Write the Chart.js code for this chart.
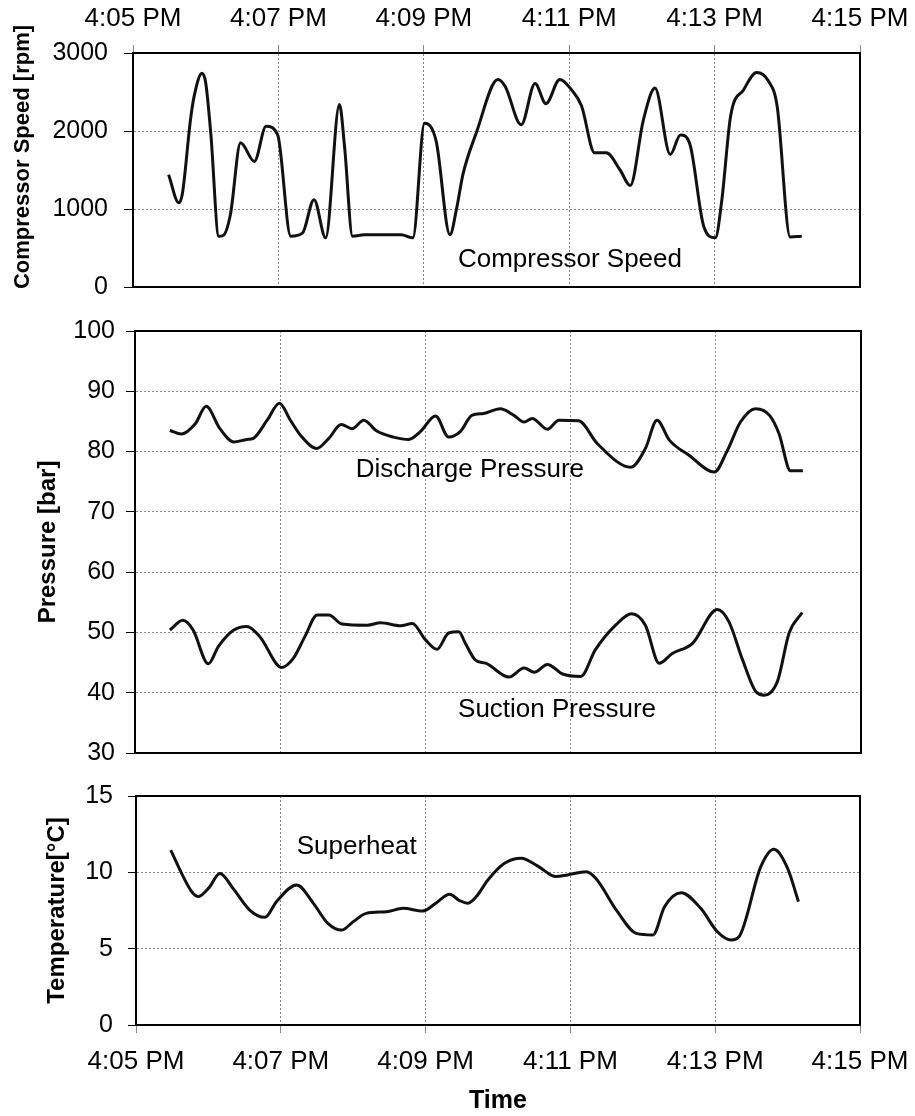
<!DOCTYPE html>
<html>
<head>
<meta charset="utf-8">
<script src="https://cdn.jsdelivr.net/npm/chart.js@4.4.0/dist/chart.umd.min.js"></script>
<style>
  body { margin: 0; background: #fff; }
  #wrap { position: relative; width: 915px; height: 1116px; }
  canvas { position: absolute; left: 0; }
</style>
</head>
<body>
<div id="wrap">
  <canvas id="speedChart" width="915" height="300" style="top:0"></canvas>
  <canvas id="pressureChart" width="915" height="465" style="top:300px"></canvas>
  <canvas id="tempChart" width="915" height="351" style="top:765px"></canvas>
</div>
<script>
// time is minutes after 4:00 PM
const timeTicks = [5, 7, 9, 11, 13, 15];
const timeLabels = ['4:05 PM', '4:07 PM', '4:09 PM', '4:11 PM', '4:13 PM', '4:15 PM'];

const speedTicks = [0, 1000, 2000, 3000];
const pressureTicks = [30, 40, 50, 60, 70, 80, 90, 100];
const tempTicks = [0, 5, 10, 15];

const speedTime = [5.49, 5.63, 5.68, 5.79, 5.84, 5.95, 6.00, 6.07, 6.18, 6.24, 6.34, 6.48, 6.67, 6.83, 6.99, 7.17, 7.33, 7.49, 7.65, 7.84, 7.91, 8.02, 8.18, 8.69, 8.85, 9.01, 9.17, 9.36, 9.45, 9.54, 9.72, 10.02, 10.12, 10.34, 10.53, 10.68, 10.87, 11.03, 11.17, 11.35, 11.51, 11.70, 11.84, 12.02, 12.18, 12.39, 12.53, 12.66, 12.85, 13.01, 13.10, 13.22, 13.40, 13.58, 13.74, 13.86, 14.04, 14.20];
const speedRpm = [1440, 1080, 1200, 2140, 2440, 2740, 2620, 1970, 650, 660, 930, 1850, 1610, 2060, 1950, 650, 690, 1120, 630, 2340, 1800, 650, 670, 670, 630, 2100, 1870, 670, 1000, 1450, 1970, 2660, 2570, 2080, 2610, 2350, 2660, 2530, 2320, 1720, 1720, 1500, 1300, 2140, 2550, 1700, 1950, 1830, 780, 630, 1120, 2190, 2530, 2750, 2640, 2320, 640, 650];

const dischargeTime = [5.48, 5.64, 5.83, 5.98, 6.17, 6.36, 6.54, 6.63, 6.82, 6.99, 7.14, 7.30, 7.50, 7.67, 7.84, 7.99, 8.15, 8.33, 8.56, 8.77, 8.93, 9.14, 9.32, 9.48, 9.64, 9.80, 10.03, 10.22, 10.36, 10.47, 10.68, 10.84, 11.11, 11.37, 11.83, 12.03, 12.19, 12.36, 12.63, 12.98, 13.16, 13.34, 13.55, 13.74, 13.87, 14.03, 14.20];
const dischargeBar = [83.5, 82.9, 84.6, 87.5, 83.8, 81.6, 82.0, 82.2, 85.2, 88.0, 85.2, 82.4, 80.5, 82.2, 84.5, 83.8, 85.2, 83.4, 82.4, 82.0, 83.3, 85.9, 82.4, 83.3, 86.0, 86.3, 87.1, 86.0, 84.9, 85.5, 83.7, 85.2, 85.1, 81.3, 77.4, 80.5, 85.2, 81.9, 79.4, 76.6, 80.2, 84.9, 87.1, 86.0, 83.0, 76.8, 76.8];

const suctionTime = [5.48, 5.66, 5.80, 6.01, 6.15, 6.36, 6.54, 6.72, 7.02, 7.18, 7.34, 7.51, 7.67, 7.85, 8.20, 8.38, 8.66, 8.82, 9.00, 9.16, 9.32, 9.46, 9.55, 9.69, 9.83, 10.15, 10.36, 10.50, 10.68, 10.89, 11.14, 11.34, 11.62, 11.84, 12.03, 12.22, 12.40, 12.68, 13.02, 13.18, 13.37, 13.55, 13.67, 13.85, 14.01, 14.19];
const suctionBar = [50.4, 52.0, 50.4, 44.8, 47.7, 50.4, 51.0, 49.3, 44.2, 45.7, 49.3, 52.9, 52.9, 51.4, 51.2, 51.6, 51.1, 51.5, 48.8, 47.2, 49.9, 50.1, 48.2, 45.4, 44.9, 42.6, 44.1, 43.4, 44.7, 43.1, 42.7, 47.1, 51.2, 53.1, 51.2, 44.9, 46.5, 48.2, 53.8, 51.8, 45.4, 40.2, 39.6, 41.9, 49.9, 53.3];

const superheatTime = [5.48, 5.63, 5.77, 5.86, 6.00, 6.16, 6.34, 6.57, 6.78, 6.94, 7.22, 7.45, 7.65, 7.84, 8.00, 8.18, 8.46, 8.69, 8.96, 9.15, 9.33, 9.47, 9.58, 9.70, 9.86, 10.09, 10.32, 10.55, 10.80, 10.96, 11.22, 11.35, 11.65, 11.91, 12.14, 12.30, 12.53, 12.80, 13.03, 13.22, 13.33, 13.63, 13.81, 14.00, 14.15];
const superheatC = [11.46, 9.93, 8.73, 8.41, 8.95, 9.93, 8.95, 7.53, 7.05, 8.08, 9.17, 7.97, 6.66, 6.22, 6.77, 7.31, 7.42, 7.64, 7.47, 8.01, 8.56, 8.15, 7.97, 8.41, 9.50, 10.59, 10.92, 10.41, 9.72, 9.83, 10.04, 9.61, 7.42, 6.00, 5.90, 7.75, 8.67, 7.64, 6.11, 5.57, 5.79, 10.37, 11.51, 10.26, 8.08];

const FONT = 'Liberation Sans, Arial, Helvetica, sans-serif';
Chart.defaults.font.family = FONT;
Chart.defaults.color = '#000';

const toPoints = (xs, ys) => xs.map((x, i) => ({ x: x, y: ys[i] }));

const framePlugin = {
  id: 'frame',
  afterDraw(chart) {
    const { ctx, chartArea: a } = chart;
    ctx.save();
    ctx.strokeStyle = '#000';
    ctx.lineWidth = 2;
    ctx.strokeRect(a.left, a.top, a.right - a.left, a.bottom - a.top);
    ctx.restore();
  }
};

// text labels placed in data units
const labelPlugin = {
  id: 'seriesLabels',
  afterDatasetsDraw(chart, args, opts) {
    const { ctx, scales } = chart;
    ctx.save();
    ctx.font = '26px ' + FONT;
    ctx.fillStyle = '#000';
    ctx.textAlign = 'left';
    ctx.textBaseline = 'middle';
    (opts.items || []).forEach(it => {
      ctx.fillText(it.text, scales.x.getPixelForValue(it.x), scales.y.getPixelForValue(it.y));
    });
    ctx.restore();
  }
};

// rotated axis title that is allowed to stick out above the plot
const sideTitlePlugin = {
  id: 'sideTitle',
  afterDraw(chart, args, opts) {
    if (!opts.text) return;
    const { ctx } = chart;
    ctx.save();
    ctx.translate(opts.x, opts.y);
    ctx.rotate(-Math.PI / 2);
    ctx.font = 'bold ' + opts.size + 'px ' + FONT;
    ctx.fillStyle = '#000';
    ctx.textAlign = 'center';
    ctx.textBaseline = 'middle';
    ctx.fillText(opts.text, 0, 0);
    ctx.restore();
  }
};

function lineSet(points) {
  return {
    data: points,
    borderColor: '#111',
    borderWidth: 3,
    pointRadius: 0,
    fill: false,
    cubicInterpolationMode: 'monotone'
  };
}

function timeAxis(position, showLabels, height, tickLen, pad, title) {
  return {
    type: 'linear',
    position: position,
    min: 5,
    max: 15,
    afterBuildTicks: s => { s.ticks = timeTicks.map(v => ({ value: v })); },
    afterFit: s => {
      s.height = height;
      s.paddingLeft = 0;
      s.paddingRight = 0;
    },
    ticks: {
      display: showLabels,
      autoSkip: false,
      maxRotation: 0,
      padding: pad,
      font: { size: 26 },
      callback: v => timeLabels[timeTicks.indexOf(v)]
    },
    grid: { color: '#888', lineWidth: 1, drawTicks: showLabels, tickLength: tickLen, tickBorderDash: [] },
    border: { color: '#000', width: 2, dash: [2, 2] },
    title: title || { display: false }
  };
}

function valueAxis(ticks, width, tickLen, pad, title, titlePad) {
  return {
    min: ticks[0],
    max: ticks[ticks.length - 1],
    afterBuildTicks: s => { s.ticks = ticks.map(v => ({ value: v })); },
    afterFit: s => {
      s.width = width;
      s.paddingTop = 0;
      s.paddingBottom = 0;
    },
    ticks: { padding: pad, font: { size: 25 }, callback: v => String(v) },
    grid: { color: '#888', lineWidth: 1, tickLength: tickLen, tickColor: '#000', tickBorderDash: [] },
    border: { color: '#000', width: 2, dash: [2, 2] },
    title: {
      display: !!title,
      text: title,
      font: { size: 24, weight: 'bold' },
      padding: { top: titlePad, bottom: 0 }
    }
  };
}

const common = {
  responsive: false,
  animation: false,
  devicePixelRatio: 1
};

new Chart(document.getElementById('speedChart'), {
  type: 'line',
  data: { datasets: [lineSet(toPoints(speedTime, speedRpm))] },
  plugins: [framePlugin, labelPlugin, sideTitlePlugin],
  options: Object.assign({}, common, {
    layout: { padding: { left: 0, right: 55, top: 0, bottom: 13 } },
    plugins: {
      legend: { display: false },
      tooltip: { enabled: false },
      seriesLabels: { items: [{ text: 'Compressor Speed', x: 9.47, y: 346 }] },
      sideTitle: { text: 'Compressor Speed [rpm]', x: 23, y: 157, size: 22 }
    },
    scales: {
      x: timeAxis('top', true, 53, 8, 11),
      y: valueAxis(speedTicks, 133, 9, 16, '', 0)
    }
  })
});

new Chart(document.getElementById('pressureChart'), {
  type: 'line',
  data: {
    datasets: [
      lineSet(toPoints(dischargeTime, dischargeBar)),
      lineSet(toPoints(suctionTime, suctionBar))
    ]
  },
  plugins: [framePlugin, labelPlugin],
  options: Object.assign({}, common, {
    layout: { padding: { left: 0, right: 54, top: 31, bottom: 12 } },
    plugins: {
      legend: { display: false },
      tooltip: { enabled: false },
      seriesLabels: {
        items: [
          { text: 'Discharge Pressure', x: 8.04, y: 77.0 },
          { text: 'Suction Pressure', x: 9.45, y: 37.2 }
        ]
      }
    },
    scales: {
      x: timeAxis('bottom', false, 0, 0, 0),
      y: valueAxis(pressureTicks, 135, 9, 11, 'Pressure [bar]', 34)
    }
  })
});

new Chart(document.getElementById('tempChart'), {
  type: 'line',
  data: { datasets: [lineSet(toPoints(superheatTime, superheatC))] },
  plugins: [framePlugin, labelPlugin],
  options: Object.assign({}, common, {
    layout: { padding: { left: 0, right: 55, top: 31, bottom: 0 } },
    plugins: {
      legend: { display: false },
      tooltip: { enabled: false },
      seriesLabels: { items: [{ text: 'Superheat', x: 7.22, y: 11.66 }] }
    },
    scales: {
      x: timeAxis('bottom', true, 91, 8, 13, {
        display: true,
        text: 'Time',
        font: { size: 25, weight: 'bold' },
        padding: { top: 0, bottom: 0 }
      }),
      y: valueAxis(tempTicks, 136, 8, 15, 'Temperature[°C]', 43)
    }
  })
});
</script>
</body>
</html>
